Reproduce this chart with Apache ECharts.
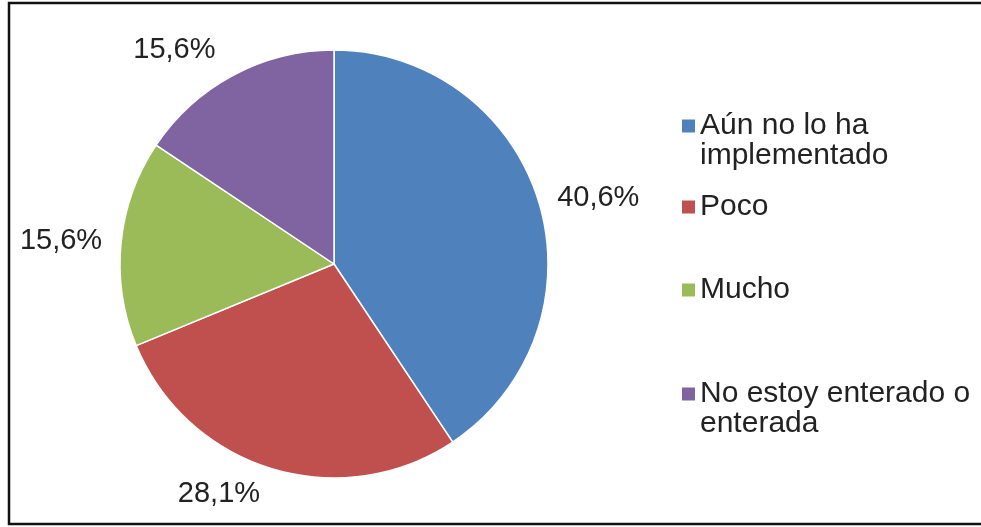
<!DOCTYPE html>
<html>
<head>
<meta charset="utf-8">
<style>
  html, body { margin: 0; padding: 0; background: #fff; }
  #chart { width: 981px; height: 527px; }
</style>
<script src="https://cdn.jsdelivr.net/npm/echarts@6/dist/echarts.min.js"></script>
</head>
<body>
<div id="chart"></div>
<script>
// Survey answers and their shares (percent)
const categories = [
  'Aún no lo ha implementado',
  'Poco',
  'Mucho',
  'No estoy enterado o enterada'
];
const shares = [40.6, 28.1, 15.6, 15.6];
const colors = ['#4F81BD', '#C0504D', '#9BBB59', '#8064A2'];

// Vertical position of each legend entry, and the gap between slice edge and its label
const legendTops = [81, 192, 275, 349];
const labelGaps = [15, 26, 15, 29];

const FONT = '"Liberation Sans", Arial, sans-serif';
const LABEL_FS = 29;
const LEGEND_FS = 30;
const LEGEND_LH = 30;
const LEGEND_WRAP = 292;

const chart = echarts.init(document.getElementById('chart'), null, { renderer: 'canvas' });

const pieData = categories.map((name, i) => ({
  name,
  value: shares[i],
  itemStyle: { color: colors[i] },
  labelLine: { length: labelGaps[i], length2: 0 }
}));

// Measure whether a legend name wraps onto two lines; if it does, a blank
// leading line keeps the square marker level with the first line of text.
const measureCtx = document.createElement('canvas').getContext('2d');
measureCtx.font = LEGEND_FS + 'px ' + FONT;
const wraps = name => measureCtx.measureText(name).width > LEGEND_WRAP;

const legends = categories.map((name, i) => ({
  data: [name],
  orient: 'vertical',
  left: 682,
  top: legendTops[i],
  padding: 0,
  icon: 'rect',
  itemWidth: 13,
  itemHeight: 13,
  itemGap: 0,
  selectedMode: false,
  itemStyle: { borderWidth: 0 },
  formatter: n => (wraps(n) ? '\n' : '') + n,
  textStyle: {
    fontFamily: FONT,
    fontSize: LEGEND_FS,
    color: '#222',
    lineHeight: LEGEND_LH,
    width: LEGEND_WRAP,
    overflow: 'break'
  }
}));

chart.setOption({
  animation: false,
  backgroundColor: '#fff',
  legend: legends,
  graphic: [{
    type: 'rect',
    shape: { x: 9, y: 3, width: 1000, height: 521 },
    style: { fill: null, stroke: '#111', lineWidth: 2.5 },
    silent: true
  }],
  series: [{
    type: 'pie',
    center: [334, 264],
    radius: 214,
    startAngle: 90,
    clockwise: true,
    avoidLabelOverlap: false,
    itemStyle: { borderColor: '#fff', borderWidth: 1.5 },
    label: {
      show: true,
      position: 'outside',
      fontFamily: FONT,
      fontSize: LABEL_FS,
      color: '#222',
      distanceToLabelLine: 4,
      formatter: p => p.value.toFixed(1).replace('.', ',') + '%'
    },
    labelLine: { show: false },
    emphasis: { disabled: true },
    data: pieData
  }]
});
</script>
</body>
</html>
